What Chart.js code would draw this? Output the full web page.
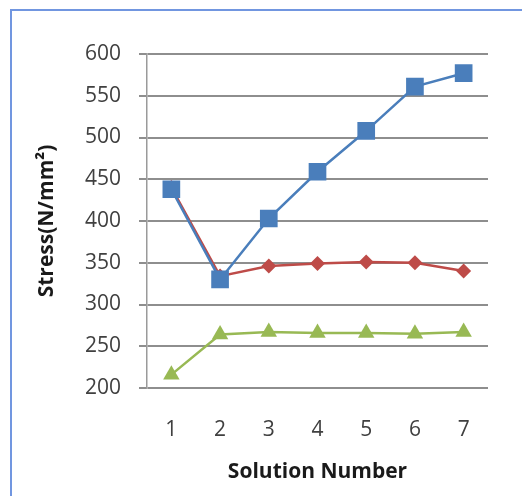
<!DOCTYPE html>
<html>
<head>
<meta charset="utf-8">
<script src="https://cdn.jsdelivr.net/npm/chart.js@4.4.0/dist/chart.umd.min.js"></script>
<style>
    html, body { margin: 0; padding: 0; background: #ffffff; }
    #Marco {
        position: absolute;
        left: 10px;
        top: 9px;
        width: 530px;
        height: 500px;
        border-left: 2px solid #7196e0;
        border-top: 2px solid #7196e0;
    }
    #Lienzo { position: absolute; left: 0; top: 0; }
</style>
</head>
<body>
<div id="Marco"></div>
<div id="Lienzo" style="width:522px;height:496px;">
    <canvas id="ChartStress"></canvas>
</div>
<script>
const Soluciones = ['1', '2', '3', '4', '5', '6', '7'];
const SerieAzul = [438, 330, 403, 459, 508, 561, 577];
const SerieRoja = [440, 334, 346, 349, 351, 350, 340];
const SerieVerde = [216, 264, 267, 266, 266, 265, 267];
const TicksY = [200, 250, 300, 350, 400, 450, 500, 550, 600];

var ctxStress = null;
var ChartStress = null;

const InitGrafStress = () => {

    ctxStress = document.getElementById('ChartStress');
    ChartStress = new Chart(ctxStress, {
        type: 'line',
        data: {
            labels: Soluciones,
            datasets: [{
                label: 'Serie 1',
                data: SerieAzul,
                borderColor: '#4a7ebb',
                backgroundColor: '#4a7ebb',
                borderWidth: 2.5,
                pointStyle: 'rect',
                pointRadius: 12.5,
                pointBorderWidth: 0
            }, {
                label: 'Serie 2',
                data: SerieRoja,
                borderColor: '#be4b48',
                backgroundColor: '#be4b48',
                borderWidth: 2.5,
                pointStyle: 'rectRot',
                pointRadius: 7.5,
                pointBorderWidth: 0
            }, {
                label: 'Serie 3',
                data: SerieVerde,
                borderColor: '#98b954',
                backgroundColor: '#98b954',
                borderWidth: 2.5,
                pointStyle: 'triangle',
                pointRadius: 9.5,
                pointBorderWidth: 0
            }]
        },
        options: {
            responsive: true,
            maintainAspectRatio: false,
            animation: false,
            layout: {
                padding: { left: 10, right: 34, top: 54, bottom: 0 }
            },
            plugins: {
                legend: { display: false },
                tooltip: { enabled: false }
            },
            scales: {
                x: {
                    offset: true,
                    grid: { display: false },
                    border: { display: false },
                    ticks: {
                        color: '#404040',
                        padding: 21,
                        font: { family: 'Open Sans', size: 21 }
                    },
                    title: {
                        display: true,
                        text: 'Solution Number',
                        color: '#1a1a1a',
                        padding: { top: 0, bottom: 11 },
                        font: { family: 'Open Sans', size: 21, weight: 'bold', lineHeight: 1.2 }
                    },
                    afterFit: (scale) => { scale.height = 108; }
                },
                y: {
                    min: 200,
                    max: 600,
                    afterBuildTicks: (scale) => {
                        scale.ticks = TicksY.map(v => ({ value: v }));
                    },
                    grid: {
                        color: '#8e8e8e',
                        lineWidth: 2,
                        tickLength: 8,
                        tickColor: '#8e8e8e'
                    },
                    border: { display: true, color: '#9a9a9a', width: 1.5 },
                    ticks: {
                        color: '#404040',
                        padding: 18,
                        font: { family: 'Open Sans', size: 21 }
                    },
                    title: {
                        display: true,
                        text: 'Stress(N/mm²)',
                        color: '#1a1a1a',
                        padding: { top: 24, bottom: 0 },
                        font: { family: 'Open Sans', size: 21, weight: 'bold', lineHeight: 1.2 }
                    },
                    afterFit: (scale) => { scale.width = 137; }
                }
            }
        }
    });

};

InitGrafStress();
</script>
</body>
</html>
